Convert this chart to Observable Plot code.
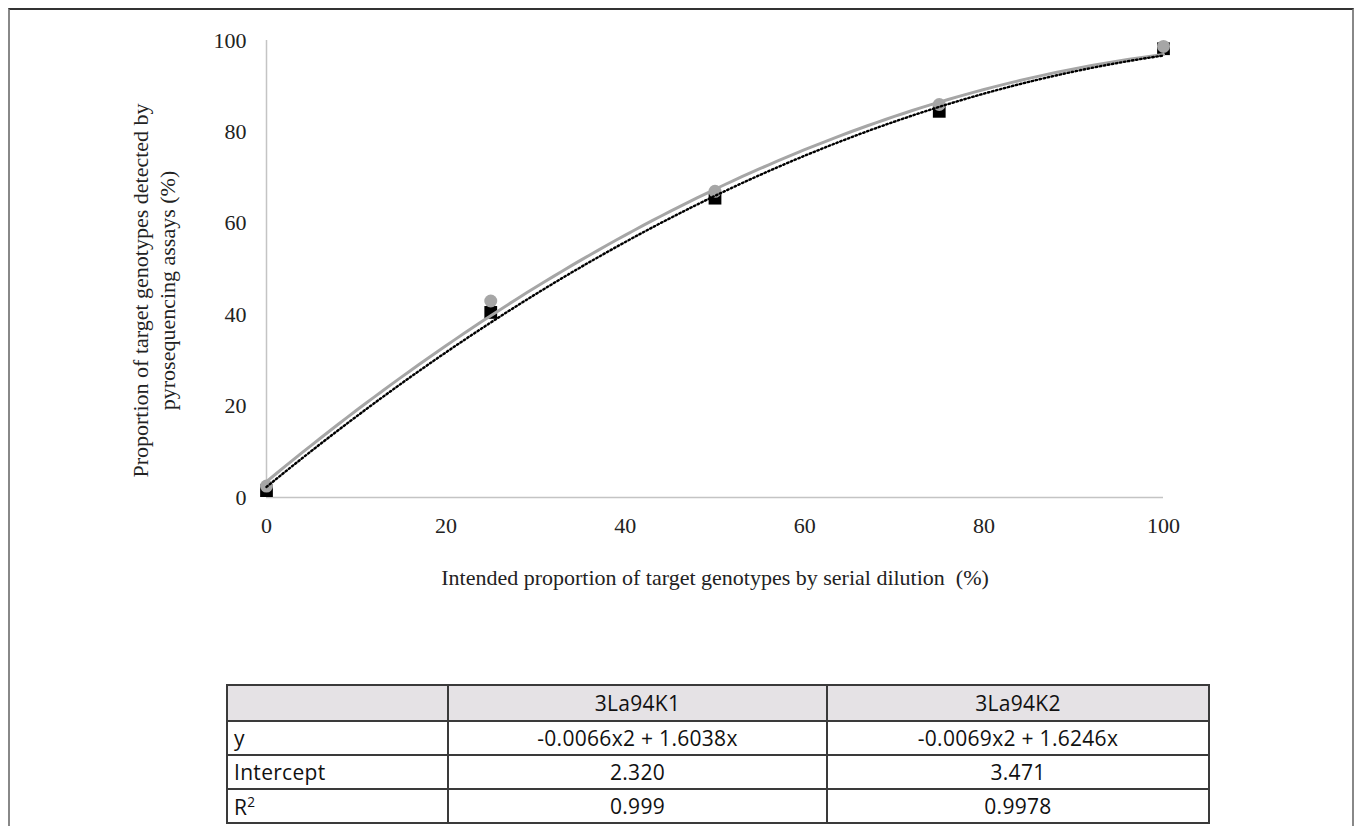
<!DOCTYPE html>
<html>
<head>
<meta charset="utf-8">
<script src="https://cdn.jsdelivr.net/npm/d3@7"></script>
<script src="https://cdn.jsdelivr.net/npm/@observablehq/plot@0.6"></script>
<style>
  html, body { margin: 0; padding: 0; background: #fff; width: 1360px; height: 826px; overflow: hidden; }
  #frame { position: absolute; left: 8px; top: 8px; width: 1346px; height: 900px;
           border-top: 2px solid #333; border-left: 2px solid #888; border-right: 2px solid #888; box-sizing: border-box; }
  #chart { position: absolute; left: 0; top: 0; }
  #tbl { position: absolute; left: 226px; top: 684px; border-collapse: collapse;
         font-family: "Open Sans", "Liberation Sans", sans-serif; font-size: 21px; letter-spacing: 0.3px; color: #111; }
  #tbl td { border: 2px solid #3a3a3a; padding: 0 6px; line-height: 1; }
  #tbl tr.head td { background: #e5e2e5; height: 34px; }
  #tbl tr.body td { height: 32px; }
  #tbl td.c { text-align: center; }
  #tbl td.l { text-align: left; }
  sup { font-size: 0.65em; vertical-align: 0.55em; }
</style>
</head>
<body>
<div id="frame"></div>
<div id="chart"></div>
<table id="tbl"></table>
<script>
// ---- data ----
const xValues = [0, 25, 50, 75, 100];                 // intended proportion (%)
const k1Values = [1.5, 40.5, 65.5, 84.5, 98.2];       // 3La94K1 (black squares)
const k2Values = [2.5, 43.0, 67.0, 86.0, 98.7];       // 3La94K2 (grey circles)
const seriesNames = ["3La94K1", "3La94K2"];
const quadCoef = [-0.0066, -0.0069];
const linCoef = [1.6038, 1.6246];
const intercepts = [2.320, 3.471];
const equations = ["-0.0066x2 + 1.6038x", "-0.0069x2 + 1.6246x"];
const interceptLabels = ["2.320", "3.471"];
const r2Labels = ["0.999", "0.9978"];
const tickValues = [0, 20, 40, 60, 80, 100];
const xTitle = "Intended proportion of target genotypes by serial dilution  (%)";
const yTitle = "Proportion of target genotypes detected by\npyrosequencing assays (%)";

// ---- build tables for Plot ----
const k1Points = xValues.map((x, i) => ({x, y: k1Values[i]}));
const k2Points = xValues.map((x, i) => ({x, y: k2Values[i]}));
const trendX = d3.range(0, 100.5, 1);
const trend = (s) => trendX.map(x => ({x, y: quadCoef[s] * x * x + linCoef[s] * x + intercepts[s]}));
const trendK1 = trend(0);
const trendK2 = trend(1);

const W = 1360, H = 620;
const chart = Plot.plot({
  width: W, height: H,
  marginLeft: 266, marginRight: 197, marginTop: 40, marginBottom: H - 497,
  style: {fontFamily: "'Liberation Serif', 'DejaVu Serif', serif", fontSize: "22px", color: "#222", background: "transparent", overflow: "visible"},
  x: {domain: [0, 100]},
  y: {domain: [0, 100]},
  marks: [
    Plot.axisX({ticks: tickValues, tickSize: 0, tickPadding: 20, label: null, fontSize: 22}),
    Plot.axisY({ticks: tickValues, tickSize: 0, tickPadding: 20, label: null, fontSize: 22}),
    Plot.ruleY([0], {stroke: "#c4c4c4", strokeWidth: 1.5}),
    Plot.ruleX([0], {stroke: "#c4c4c4", strokeWidth: 1.5}),
    Plot.dot(k1Points, {x: "x", y: "y", symbol: "square", r: 7.2, fill: "#000"}),
    Plot.dot(k2Points, {x: "x", y: "y", symbol: "circle", r: 6.5, fill: "#a6a6a6"}),
    Plot.line(trendK2, {x: "x", y: "y", stroke: "#a6a6a6", strokeWidth: 3}),
    Plot.line(trendK1, {x: "x", y: "y", stroke: "#000", strokeWidth: 2.4, strokeDasharray: "1.5,2.6"}),
    Plot.text([xTitle], {frameAnchor: "bottom", dy: 80, lineAnchor: "middle", textAnchor: "middle", fontSize: 22, fill: "#222"}),
    Plot.text([yTitle], {frameAnchor: "left", dx: -113.5, dy: 21.5, rotate: -90, textAnchor: "middle", lineAnchor: "middle", lineHeight: 1.23, fontSize: 22, fill: "#222"})
  ]
});
document.getElementById("chart").appendChild(chart);

// ---- equation table ----
const tbl = document.getElementById("tbl");
const colW = [221, 379, 382];
const rows = [
  {cls: "head", cells: ["", seriesNames[0], seriesNames[1]]},
  {cls: "body", cells: ["y", equations[0], equations[1]]},
  {cls: "body", cells: ["Intercept", interceptLabels[0], interceptLabels[1]]},
  {cls: "body", cells: ["R<sup>2</sup>", r2Labels[0], r2Labels[1]]}
];
rows.forEach(r => {
  const tr = document.createElement("tr");
  tr.className = r.cls;
  r.cells.forEach((c, j) => {
    const td = document.createElement("td");
    td.className = j === 0 ? "l" : "c";
    td.style.width = (colW[j] - 14) + "px";
    td.innerHTML = c;
    tr.appendChild(td);
  });
  tbl.appendChild(tr);
});
</script>
</body>
</html>
